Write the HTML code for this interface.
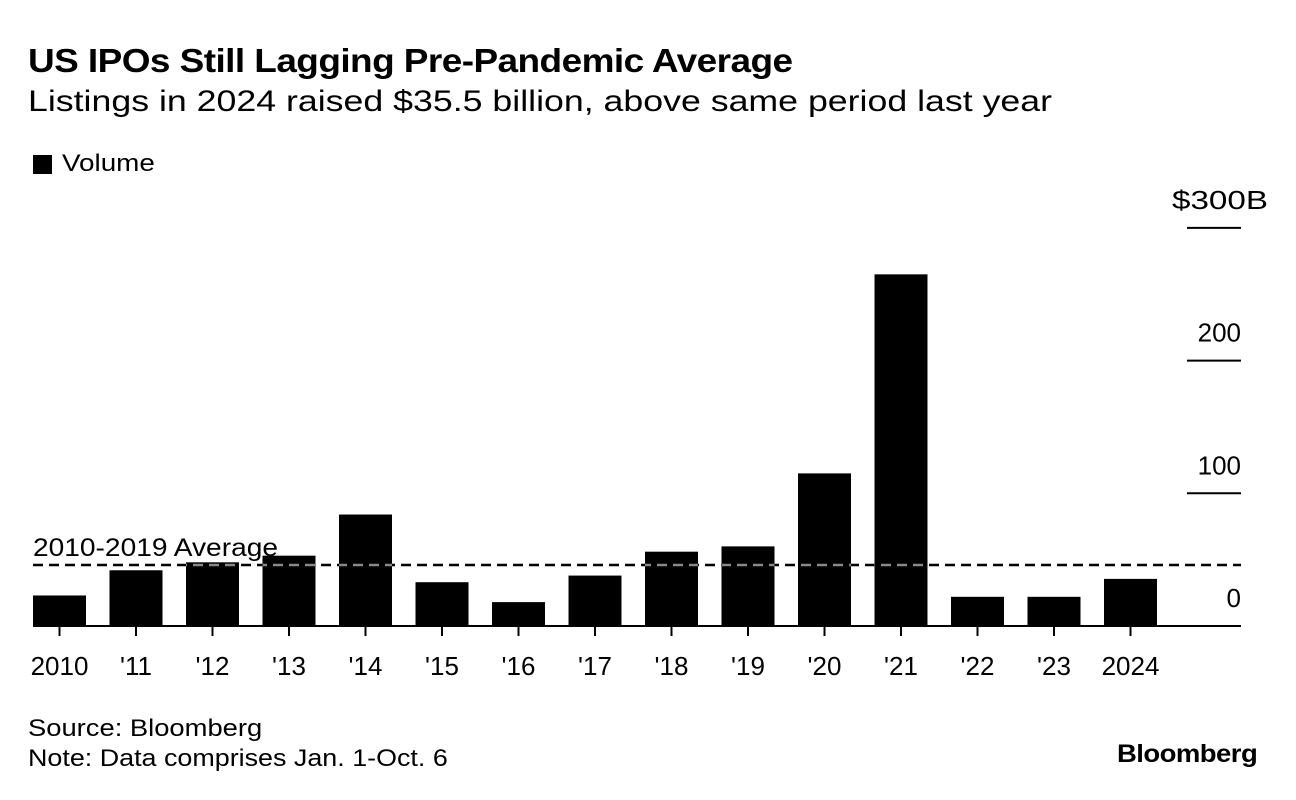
<!DOCTYPE html>
<html><head><meta charset="utf-8"><style>
body{margin:0;background:#fff;font-family:"Liberation Sans",sans-serif;color:#000;}
#wrap{position:relative;width:1296px;height:800px;overflow:hidden;}
.t{position:absolute;white-space:nowrap;transform-origin:0 0;}
</style></head><body>
<div id="wrap">
<div class="t" style="left:28px;top:42px;font-size:33px;font-weight:bold;letter-spacing:-0.5px;transform:scaleX(1.12);">US IPOs Still Lagging Pre-Pandemic Average</div>
<div class="t" style="left:28px;top:85px;font-size:30px;transform:scaleX(1.19);">Listings in 2024 raised $35.5 billion, above same period last year</div>
<div style="position:absolute;left:33px;top:155px;width:19px;height:19px;background:#000;"></div>
<div class="t" style="left:62px;top:150px;font-size:24px;transform:scaleX(1.16);">Volume</div>
<svg id="chart" width="1296" height="800" style="position:absolute;left:0;top:0;"><defs><clipPath id="barclip"></clipPath></defs></svg>
<div class="t" style="left:28px;top:715px;font-size:24px;transform:scaleX(1.14);">Source: Bloomberg</div>
<div class="t" style="left:28px;top:745px;font-size:24px;transform:scaleX(1.12);">Note: Data comprises Jan. 1-Oct. 6</div>
<div class="t" style="left:1117px;top:740px;font-size:25px;font-weight:bold;letter-spacing:-0.5px;transform:scaleX(1.1);">Bloomberg</div>
</div>
<script>
const categories=["2010","'11","'12","'13","'14","'15","'16","'17","'18","'19","'20","'21","'22","'23","2024"];
const volumes=[23,42,48,53,84,33,18,38,56,60,115,265,22,22,35.5];
const yTicks=[0,100,200,300];
const yTickLabels=["0","100","200","$300B"];
const averageValue=46;
const ns="http://www.w3.org/2000/svg";
const svg=document.getElementById('chart');
const clip=document.getElementById('barclip');
const y0=626, pxPer=1.327;
const y=v=>y0-v*pxPer;
const x=i=>59.5+i*76.5;
const bw=53;
const FF='Liberation Sans, sans-serif';
function mk(tag,attrs,parent){const e=document.createElementNS(ns,tag);for(const k in attrs)e.setAttribute(k,attrs[k]);(parent||svg).appendChild(e);return e;}
yTicks.forEach((t,i)=>{
  if(t>0){const l=mk('line',{x1:1187,x2:1241,y1:y(t),y2:y(t),stroke:'#000','stroke-width':2});
  
  }
  const attrs={x:(t===300?1268:1241),y:y(t)-19,'font-size':26,'font-family':FF,'text-anchor':'end'};
  if(t===300){attrs.textLength=96;attrs.lengthAdjust='spacingAndGlyphs';}
  const tx=mk('text',attrs);
  tx.textContent=yTickLabels[i];
  
  
});
volumes.forEach((v,i)=>{
  const r=mk('rect',{x:x(i)-bw/2,y:y(v),width:bw,height:y0-y(v),fill:'#000'});
  
  
  mk('rect',{x:x(i)-bw/2,y:y(v),width:bw,height:y0-y(v)},clip);
  const tk=mk('line',{x1:x(i),x2:x(i),y1:y0,y2:y0+10,stroke:'#000','stroke-width':2});
  
  
  const tx=mk('text',{x:x(i),y:675,'font-size':26,'font-family':FF,'text-anchor':'middle'});
  tx.textContent=categories[i];
  
  
});
const base=mk('line',{x1:33,x2:1241,y1:y0,y2:y0,stroke:'#000','stroke-width':2});


const avg=mk('line',{x1:33,x2:1241,y1:y(averageValue),y2:y(averageValue),stroke:'#000','stroke-width':2.5,'stroke-dasharray':'10 6'});


const avgDash=mk('line',{x1:33,x2:1241,y1:y(averageValue),y2:y(averageValue),stroke:'#888','stroke-width':2.5,'stroke-dasharray':'10 6','clip-path':'url(#barclip)'});


const al=mk('text',{x:33,y:y(averageValue)-9,'font-size':25,'font-family':FF,textLength:245,lengthAdjust:'spacingAndGlyphs'});
al.textContent='2010-2019 Average';


</script>
</body></html>
